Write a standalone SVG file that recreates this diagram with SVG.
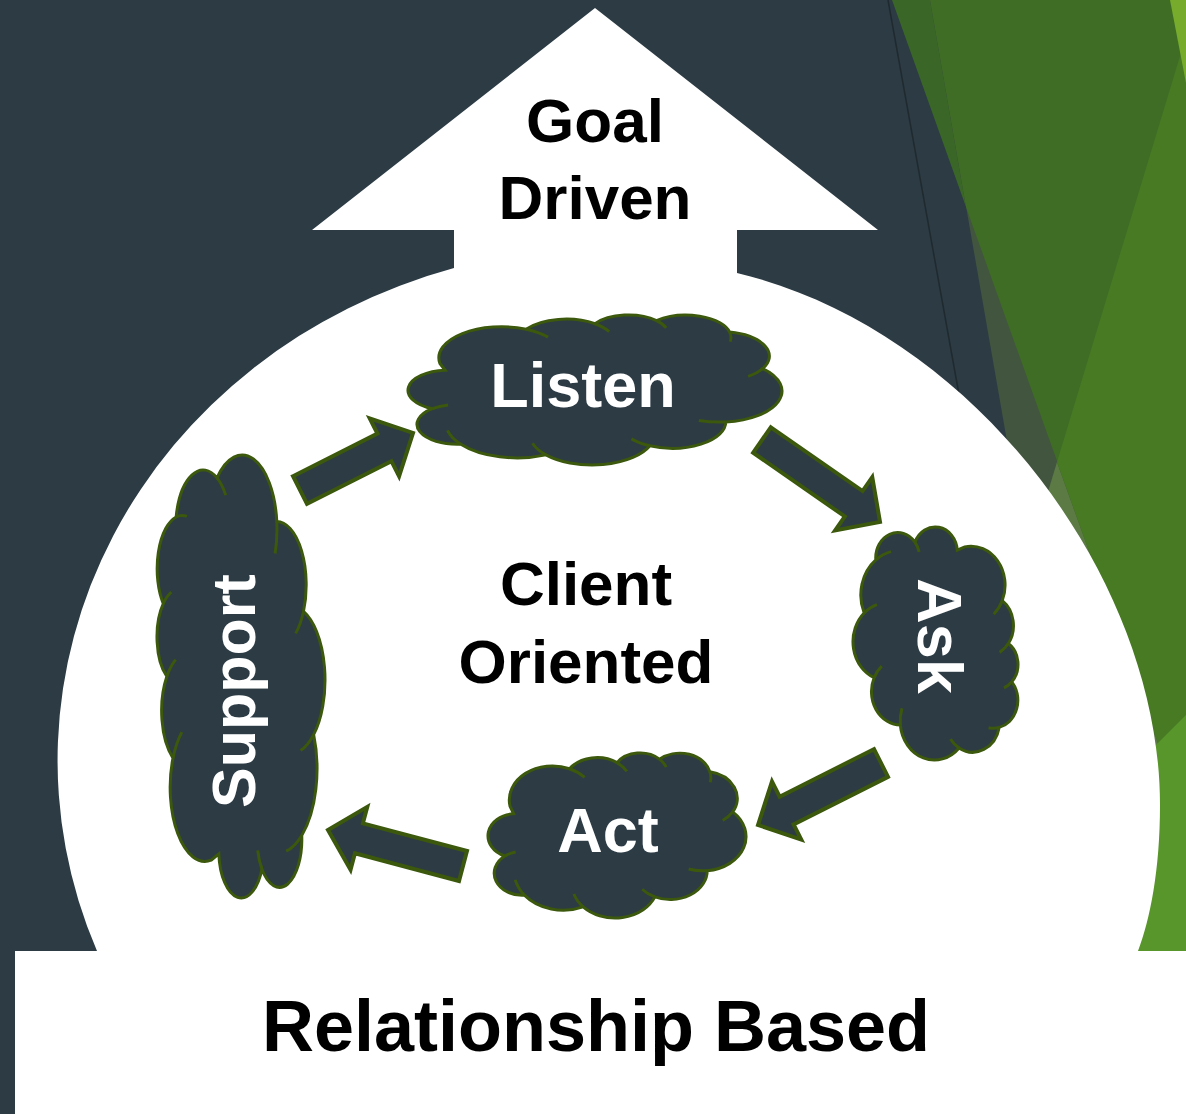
<svg xmlns="http://www.w3.org/2000/svg" xmlns:xlink="http://www.w3.org/1999/xlink" width="1186" height="1114" viewBox="0 0 1186 1114">
<style>
.t{font-family:"Liberation Sans",Arial,sans-serif;font-weight:bold;text-anchor:middle}
.blk{fill:#000;font-size:62px}
.wht{fill:#fff;font-size:63px}
.cl{fill:#2c3b44;stroke:#3b580d;stroke-width:3}
.cr{fill:none;stroke:#3b580d;stroke-width:3}
.arr{fill:#2c3b44;stroke:#3b580d;stroke-width:4;stroke-linejoin:miter}
</style>
<defs>
<path id="cloudShape" vector-effect="non-scaling-stroke" d="M 39.00 143.70 A 67.53 91.90 0 0 1 132.10 42.56 A 53.33 72.67 0 0 1 206.53 26.26 A 43.65 59.45 0 0 1 272.91 16.84 A 48.57 65.95 0 0 1 351.95 50.94 A 53.33 72.73 0 0 1 387.54 158.98 A 67.75 92.20 0 0 1 347.78 317.29 A 57.85 78.67 0 0 1 265.79 387.93 A 67.52 92.15 0 0 1 153.51 414.84 A 77.20 105.43 0 0 1 61.61 383.33 A 43.60 59.18 0 0 1 30.90 277.86 A 43.45 59.45 0 0 1 44.72 163.92 Z"/>
<path id="cloudCrease" vector-effect="non-scaling-stroke" d="M 132.10 42.56 A 67.53 91.90 0 0 1 155.82 65.83 M 206.53 26.26 A 53.33 72.67 0 0 1 221.87 49.77 M 272.91 16.84 A 43.65 59.45 0 0 1 283.37 38.28 M 351.95 50.94 A 48.57 65.95 0 0 1 352.41 79.49 M 387.54 158.98 A 53.33 72.73 0 0 1 371.86 182.07 M 347.78 317.29 A 67.75 92.20 0 0 1 318.64 312.78 M 265.79 387.93 A 57.85 78.67 0 0 1 245.83 367.35 M 153.51 414.84 A 67.52 92.15 0 0 1 138.95 380.27 M 61.61 383.33 A 77.20 105.43 0 0 1 47.20 342.16 M 30.90 277.86 A 43.60 59.18 0 0 1 47.90 266.75"/>
</defs>

<g id="background">
<rect x="0" y="0" width="1186" height="1114" fill="#2c3b44"/>
<polygon points="930,0 1186,0 1186,951 1096,951" fill="#42553f"/>
<polygon points="892,0 930,0 966,207" fill="#3a6627"/>
<polygon points="930,0 1186,0 1186,821 966,207" fill="#3f6d25"/>
<polygon points="1057,462 1186,821 1186,951 909,951" fill="#5b7a44"/>
<polygon points="1197,0 1057,462 1186,821 1186,0" fill="#477a23"/>
<polygon points="1170,0 1186,0 1186,83" fill="#76ab2c"/>
<polygon points="1186,715 1186,951 1120,951 1120,781" fill="#58962b"/>
<line x1="888" y1="0" x2="960" y2="400" stroke="#1f2a2e" stroke-width="1.5"/>
<path d="M 595 8 L 878 230 L 737 230 L 737 273 C 975 330 1160 580 1160 805 C 1160 870 1150 920 1138 951 L 97 951 A 551 513 0 0 1 454 268 L 454 230 L 312 230 Z" fill="#fff"/>
<rect x="15" y="951" width="1171" height="163" fill="#fff"/>
</g>

<g id="goal">
<text class="t blk" x="595" y="142">Goal</text>
<text class="t blk" x="595" y="219">Driven</text>
</g>
<g id="client">
<text class="t blk" x="586" y="605">Client</text>
<text class="t blk" x="586" y="683">Oriented</text>
</g>
<g id="relationship">
<text class="t blk" x="596" y="1051" style="font-size:72px">Relationship Based</text>
</g>

<g id="listen">
<g transform="translate(408,315) scale(0.9259,0.3373) translate(-4.54,-0.22)">
<use xlink:href="#cloudShape" class="cl"/>
<use xlink:href="#cloudCrease" class="cr"/>
</g>
<text class="t wht" x="583" y="407">Listen</text>
</g>
<g id="ask">
<g transform="translate(935.5,643.5) rotate(90) translate(-116.5,-82.5) scale(0.5769,0.3711) translate(-4.54,-0.22)">
<use xlink:href="#cloudShape" class="cl"/>
<use xlink:href="#cloudCrease" class="cr"/>
</g>
<text class="t wht" transform="translate(918,636) rotate(90)" x="0" y="0">Ask</text>
</g>
<g id="act">
<g transform="translate(488,753) scale(0.6388,0.3711) translate(-4.54,-0.22)">
<use xlink:href="#cloudShape" class="cl"/>
<use xlink:href="#cloudCrease" class="cr"/>
</g>
<text class="t wht" x="608" y="852">Act</text>
</g>
<g id="support">
<g transform="translate(241,676.5) rotate(-90) translate(-221.5,-84) scale(1.0968,0.3778) translate(-4.54,-0.22)">
<use xlink:href="#cloudShape" class="cl"/>
<use xlink:href="#cloudCrease" class="cr"/>
</g>
<text class="t wht" transform="translate(255,691) rotate(-90)" x="0" y="0" style="font-size:61px">Support</text>
</g>

<g id="connectors">
<polygon class="arr" transform="translate(300,490) rotate(-26.8)" points="0,-15.5 94.6,-15.5 94.6,-32.5 126.6,0 94.6,32.5 94.6,15.5 0,15.5"/>
<polygon class="arr" transform="translate(762,440) rotate(34.8)" points="0,-15.5 111.7,-15.5 111.7,-32.5 143.7,0 111.7,32.5 111.7,15.5 0,15.5"/>
<polygon class="arr" transform="translate(881,763) rotate(153.25)" points="0,-15.5 105.7,-15.5 105.7,-32.5 137.7,0 105.7,32.5 105.7,15.5 0,15.5"/>
<polygon class="arr" transform="translate(463,866) rotate(194.9)" points="0,-15.5 107.7,-15.5 107.7,-32.5 139.7,0 107.7,32.5 107.7,15.5 0,15.5"/>
</g>
</svg>
